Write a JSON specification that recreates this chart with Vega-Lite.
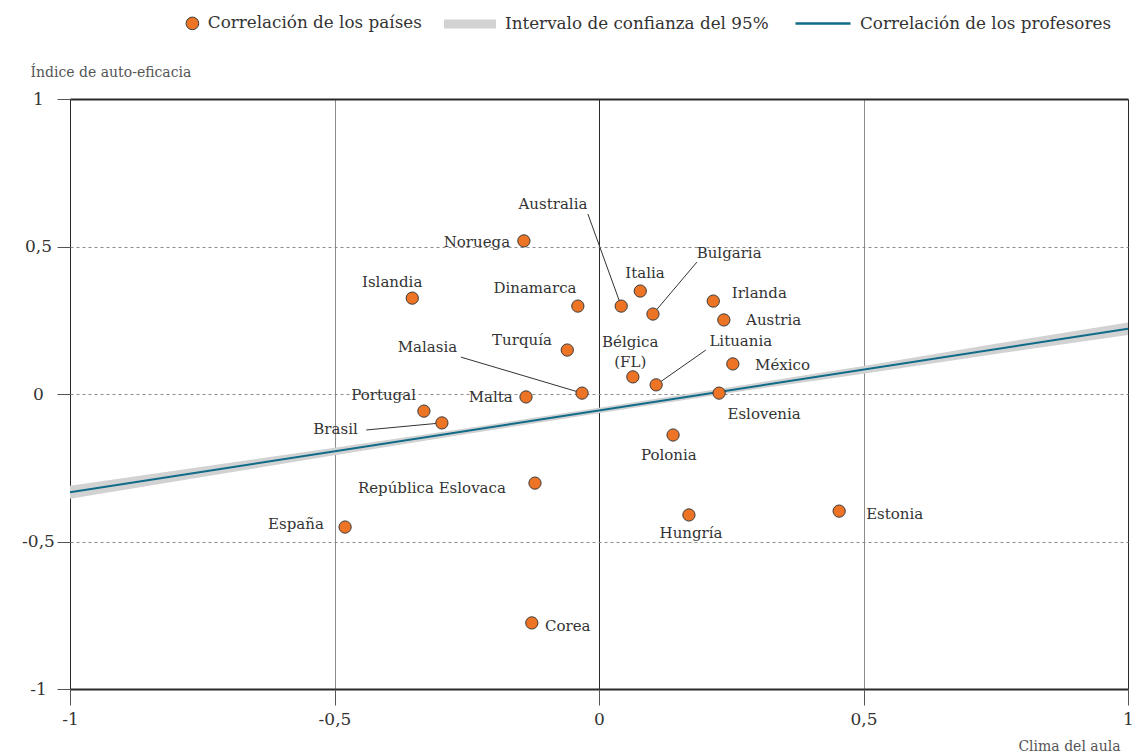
{
  "$schema": "https://vega.github.io/schema/vega-lite/v6.json",
  "autosize": "none",
  "width": 1058,
  "height": 590,
  "padding": {"left": 70, "top": 99, "right": 8, "bottom": 67},
  "background": "white",
  "config": {
    "view": {"stroke": null},
    "font": "DejaVu Serif",
    "text": {"font": "DejaVu Serif"},
    "legend": {"labelFont": "DejaVu Serif", "labelFontSize": 16.8, "labelColor": "#333", "padding": 0, "labelLimit": 0}
  },
  "datasets": {
    "paises": [
      {"pais": "Noruega", "x": -0.142, "y": 0.519, "lx": -0.168, "ly": 0.515, "ancla": "der"},
      {"pais": "Islandia", "x": -0.353, "y": 0.325, "lx": -0.391, "ly": 0.380, "ancla": "centro"},
      {"pais": "Dinamarca", "x": -0.040, "y": 0.298, "lx": -0.121, "ly": 0.359, "ancla": "centro"},
      {"pais": "Australia", "x": 0.042, "y": 0.298, "lx": -0.087, "ly": 0.644, "ancla": "centro"},
      {"pais": "Italia", "x": 0.078, "y": 0.349, "lx": 0.087, "ly": 0.410, "ancla": "centro"},
      {"pais": "Bulgaria", "x": 0.102, "y": 0.271, "lx": 0.246, "ly": 0.478, "ancla": "centro"},
      {"pais": "Irlanda", "x": 0.216, "y": 0.315, "lx": 0.251, "ly": 0.342, "ancla": "izq"},
      {"pais": "Austria", "x": 0.236, "y": 0.251, "lx": 0.278, "ly": 0.251, "ancla": "izq"},
      {"pais": "Turquía", "x": -0.060, "y": 0.149, "lx": -0.089, "ly": 0.183, "ancla": "der"},
      {"pais": "México", "x": 0.253, "y": 0.102, "lx": 0.295, "ly": 0.098, "ancla": "izq"},
      {"pais": "Bélgica\n(FL)", "x": 0.064, "y": 0.058, "lx": 0.059, "ly": 0.176, "ancla": "centro"},
      {"pais": "Lituania", "x": 0.108, "y": 0.031, "lx": 0.268, "ly": 0.180, "ancla": "centro"},
      {"pais": "Malasia", "x": -0.032, "y": 0.003, "lx": -0.268, "ly": 0.159, "ancla": "der"},
      {"pais": "Malta", "x": -0.138, "y": -0.010, "lx": -0.163, "ly": -0.010, "ancla": "der"},
      {"pais": "Portugal", "x": -0.331, "y": -0.058, "lx": -0.346, "ly": -0.003, "ancla": "der"},
      {"pais": "Brasil", "x": -0.297, "y": -0.098, "lx": -0.456, "ly": -0.119, "ancla": "der"},
      {"pais": "Eslovenia", "x": 0.227, "y": 0.003, "lx": 0.312, "ly": -0.068, "ancla": "centro"},
      {"pais": "Polonia", "x": 0.140, "y": -0.139, "lx": 0.132, "ly": -0.207, "ancla": "centro"},
      {"pais": "República Eslovaca", "x": -0.121, "y": -0.302, "lx": -0.176, "ly": -0.319, "ancla": "der"},
      {"pais": "España", "x": -0.480, "y": -0.451, "lx": -0.520, "ly": -0.441, "ancla": "der"},
      {"pais": "Hungría", "x": 0.170, "y": -0.410, "lx": 0.174, "ly": -0.471, "ancla": "centro"},
      {"pais": "Estonia", "x": 0.454, "y": -0.397, "lx": 0.505, "ly": -0.407, "ancla": "izq"},
      {"pais": "Corea", "x": -0.127, "y": -0.776, "lx": -0.102, "ly": -0.786, "ancla": "izq"}
    ],
    "guias": [
      {"pais": "Australia", "x1": -0.021, "y1": 0.610, "x2": 0.042, "y2": 0.298},
      {"pais": "Bulgaria", "x1": 0.185, "y1": 0.447, "x2": 0.102, "y2": 0.271},
      {"pais": "Lituania", "x1": 0.202, "y1": 0.149, "x2": 0.108, "y2": 0.031},
      {"pais": "Malasia", "x1": -0.261, "y1": 0.125, "x2": -0.032, "y2": 0.003},
      {"pais": "Brasil", "x1": -0.440, "y1": -0.122, "x2": -0.297, "y2": -0.098}
    ],
    "banda": [
      {"x": -1.0, "lo": -0.355, "hi": -0.311},
      {"x": -0.75, "lo": -0.281, "hi": -0.247},
      {"x": -0.5, "lo": -0.208, "hi": -0.182},
      {"x": -0.25, "lo": -0.136, "hi": -0.116},
      {"x": 0.0, "lo": -0.065, "hi": -0.047},
      {"x": 0.25, "lo": 0.004, "hi": 0.024},
      {"x": 0.5, "lo": 0.069, "hi": 0.095},
      {"x": 0.75, "lo": 0.136, "hi": 0.170},
      {"x": 1.0, "lo": 0.200, "hi": 0.242}
    ],
    "recta": [
      {"x": -1.0, "y": -0.333},
      {"x": 1.0, "y": 0.221}
    ]
  },
  "layer": [
    {
      "data": {"name": "banda"},
      "mark": {"type": "area", "opacity": 1},
      "encoding": {
        "x": {
          "field": "x", "type": "quantitative",
          "scale": {"domain": [-1, 1], "nice": false, "zero": false},
          "axis": {
            "values": [-1, -0.5, 0, 0.5, 1],
            "labelExpr": "replace(toString(datum.value), '.', ',')",
            "grid": true,
            "gridColor": {"condition": {"test": "datum.value === 0 || datum.value === -1 || datum.value === 1", "value": "#2a2a2a"}, "value": "#8c8c8c"},
            "gridWidth": 1,
            "domain": false,
            "ticks": true,
            "tickSize": 16,
            "tickColor": "#555",
            "labelFont": "DejaVu Serif",
            "labelFontSize": 17,
            "labelColor": "#333",
            "labelPadding": 6,
            "labelFlush": false,
            "title": "Clima del aula",
            "titleFont": "DejaVu Serif",
            "titleFontSize": 14,
            "titleFontWeight": "normal",
            "titleColor": "#555",
            "titleAlign": "right",
            "titleAnchor": "end",
            "titleBaseline": "middle",
            "titleX": 1050,
            "titleY": 57
          }
        },
        "y": {
          "field": "lo", "type": "quantitative",
          "scale": {"domain": [-1, 1], "nice": false, "zero": false},
          "axis": {
            "values": [-1, -0.5, 0, 0.5, 1],
            "labelExpr": "replace(toString(datum.value), '.', ',')",
            "grid": true,
            "gridColor": {"condition": {"test": "abs(datum.value) === 1", "value": "#2a2a2a"}, "value": "#8c8c8c"},
            "gridDash": {"condition": {"test": "abs(datum.value) === 1", "value": []}, "value": [3, 3]},
            "gridWidth": {"condition": {"test": "abs(datum.value) === 1", "value": 2}, "value": 1},
            "domain": false,
            "tickSize": 13,
            "tickColor": "#555",
            "labelFont": "DejaVu Serif",
            "labelFontSize": 17,
            "labelColor": "#333",
            "labelAlign": "center",
            "labelPadding": 19,
            "title": "Índice de auto-eficacia",
            "titleFont": "DejaVu Serif",
            "titleFontSize": 14,
            "titleFontWeight": "normal",
            "titleColor": "#555",
            "titleAngle": 0,
            "titleAlign": "left",
            "titleBaseline": "middle",
            "titleX": -40,
            "titleY": -27
          }
        },
        "y2": {"field": "hi"},
        "fill": {
          "datum": "Intervalo de confianza del 95%",
          "scale": {"range": ["#d2d2d2"]},
          "legend": {
            "orient": "none", "legendX": 374, "legendY": -101, "title": null,
            "symbolType": "M-1,-0.17H1V0.17H-1Z", "symbolSize": 2704,
            "symbolStrokeWidth": 0, "labelOffset": 9
          }
        }
      }
    },
    {
      "data": {"name": "recta"},
      "mark": {"type": "line", "strokeWidth": 2},
      "encoding": {
        "x": {"field": "x", "type": "quantitative"},
        "y": {"field": "y", "type": "quantitative"},
        "stroke": {
          "datum": "Correlación de los profesores",
          "scale": {"range": ["#0f6b88"]},
          "legend": {
            "orient": "none", "legendX": 724, "legendY": -104.5, "title": null,
            "symbolType": "stroke", "symbolSize": 3025,
            "symbolStrokeWidth": 2.5, "labelOffset": 8
          }
        }
      }
    },
    {
      "data": {"name": "guias"},
      "mark": {"type": "rule", "color": "#333", "strokeWidth": 1},
      "encoding": {
        "x": {"field": "x1", "type": "quantitative"},
        "y": {"field": "y1", "type": "quantitative"},
        "x2": {"field": "x2"},
        "y2": {"field": "y2"}
      }
    },
    {
      "data": {"name": "paises"},
      "mark": {"type": "point", "filled": true, "size": 150, "stroke": "#3a3a3a", "strokeWidth": 1, "opacity": 1},
      "encoding": {
        "x": {"field": "x", "type": "quantitative"},
        "y": {"field": "y", "type": "quantitative"},
        "color": {
          "datum": "Correlación de los países",
          "scale": {"range": ["#ec7424"]},
          "legend": {
            "orient": "none", "legendX": 114, "legendY": -84, "title": null,
            "symbolType": "circle", "symbolSize": 160,
            "symbolStrokeColor": "#3a3a3a", "symbolStrokeWidth": 1, "labelOffset": 7
          }
        }
      }
    },
    {
      "data": {"name": "paises"},
      "transform": [{"filter": "datum.ancla === 'der'"}],
      "mark": {"type": "text", "align": "right", "baseline": "middle", "fontSize": 15, "color": "#333", "lineBreak": "\n", "lineHeight": 20},
      "encoding": {
        "x": {"field": "lx", "type": "quantitative"},
        "y": {"field": "ly", "type": "quantitative"},
        "text": {"field": "pais"}
      }
    },
    {
      "data": {"name": "paises"},
      "transform": [{"filter": "datum.ancla === 'izq'"}],
      "mark": {"type": "text", "align": "left", "baseline": "middle", "fontSize": 15, "color": "#333", "lineBreak": "\n", "lineHeight": 20},
      "encoding": {
        "x": {"field": "lx", "type": "quantitative"},
        "y": {"field": "ly", "type": "quantitative"},
        "text": {"field": "pais"}
      }
    },
    {
      "data": {"name": "paises"},
      "transform": [{"filter": "datum.ancla === 'centro'"}],
      "mark": {"type": "text", "align": "center", "baseline": "middle", "fontSize": 15, "color": "#333", "lineBreak": "\n", "lineHeight": 20},
      "encoding": {
        "x": {"field": "lx", "type": "quantitative"},
        "y": {"field": "ly", "type": "quantitative"},
        "text": {"field": "pais"}
      }
    }
  ]
}
